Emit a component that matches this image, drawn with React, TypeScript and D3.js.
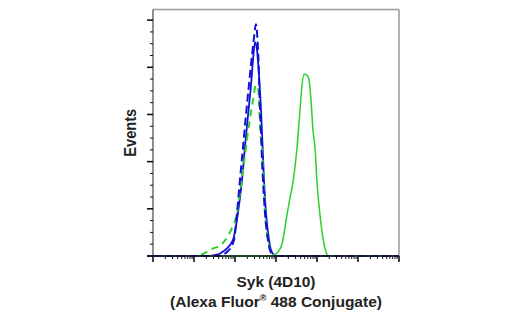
import React from 'react';
import * as d3 from 'd3';

// fluorescence intensity (log axis) and event counts (% of max)
const blueSolidX = [1, 18.5, 32.5, 57, 89, 118, 148, 175, 208, 246, 275, 307, 344, 385, 431, 469, 510, 570, 675, 755, 1000, 1e6];
const blueSolidY = [0, 0, 0.4, 2.5, 6.8, 18.2, 32.2, 46.2, 59.7, 72.5, 83.1, 90.7, 87.3, 76.7, 61.9, 47.0, 32.2, 18.2, 6.8, 2.5, 0, 0];

const blueDashX = [1, 38.5, 67.5, 94.6, 112, 132, 157, 185, 219, 260, 290, 325, 354, 374, 396, 431, 456, 496, 540, 638, 798, 1000, 1e6];
const blueDashY = [0, 0, 2.1, 6.8, 18.2, 32.2, 46.2, 59.7, 72.5, 85.2, 92.4, 98.3, 91.5, 83.1, 68.2, 52.5, 40.7, 28, 18.2, 6.8, 0.8, 0, 0];

const greenDashX = [1, 8, 14, 27.5, 48, 67.5, 84.5, 112, 140, 175, 219, 275, 325, 364, 385, 407, 456, 496, 540, 638, 798, 1000, 1e6];
const greenDashY = [0, 0, 0.4, 3.0, 5.1, 8.5, 11.9, 18.2, 30.1, 42.8, 55.5, 66.1, 72.5, 71.2, 66.1, 55.5, 44.9, 32.2, 18.2, 6.8, 0.8, 0, 0];

const greenSolidX = [1, 714, 894, 1119, 1400, 1854, 2194, 2600, 3250, 3850, 4310, 4820, 5700, 6380, 7140, 7980, 8940, 10000, 11840, 14000, 16600, 18540, 1e6];
const greenSolidY = [0, 0, 0.4, 1.7, 5.1, 17.4, 24.6, 31.4, 45.8, 61.9, 72.5, 77.1, 76.7, 74.6, 66.1, 53.4, 45.8, 31.4, 17.4, 7.6, 1.7, 0, 0];

const xLabel1 = 'Syk (4D10)';
const yLabel = 'Events';

const margin = { top: 9.5, right: 121, bottom: 64, left: 153 };
const W = 520;
const H = 320;

const App = () => {
  const x = d3.scaleLog().domain([1, 1e6]).range([margin.left, W - margin.right]);
  const y = d3.scaleLinear().domain([0, 104.5]).range([H - margin.bottom, margin.top]);

  const line = d3
    .line<[number, number]>()
    .x((d) => x(d[0]))
    .y((d) => y(d[1]))
    .curve(d3.curveMonotoneX);

  const pts = (xs: number[], ys: number[]) => xs.map((v, i) => [v, ys[i]] as [number, number]);

  const y0 = y(0);
  const xTicks = x.ticks();
  const yTicks = d3.range(0, 101, 5);
  const font = '"Liberation Sans", Arial, sans-serif';
  const cx = (x.range()[0] + x.range()[1]) / 2;

  return (
    <svg width={W} height={H} style={{ position: 'absolute', left: 0, top: 0, background: '#fff' }}>
      {/* frame */}
      <line x1={x.range()[0]} x2={x.range()[1]} y1={margin.top} y2={margin.top} stroke="#9a9a9a" strokeWidth={1.5} />
      <line x1={x.range()[1]} x2={x.range()[1]} y1={margin.top} y2={y0} stroke="#9a9a9a" strokeWidth={1.5} />
      <line x1={x.range()[0]} x2={x.range()[0]} y1={margin.top} y2={y0} stroke="#555" strokeWidth={1.3} />

      {/* y ticks */}
      {yTicks.map((t) => (
        <line
          key={'y' + t}
          x1={x.range()[0] - (t % 20 === 0 ? 6 : 3)}
          x2={x.range()[0]}
          y1={y(t)}
          y2={y(t)}
          stroke="#111"
          strokeWidth={t % 20 === 0 ? 1.6 : 1}
        />
      ))}

      {/* x ticks */}
      {xTicks.map((t) => {
        const major = Math.abs(Math.log10(t) - Math.round(Math.log10(t))) < 1e-9;
        return (
          <line
            key={'x' + t}
            x1={x(t)}
            x2={x(t)}
            y1={y0}
            y2={y0 + (major ? 6 : 3)}
            stroke="#111"
            strokeWidth={major ? 1.6 : 1}
          />
        );
      })}

      {/* curves */}
      <path d={line(pts(blueSolidX, blueSolidY)) || ''} fill="none" stroke="#1010d8" strokeWidth={1.8} />
      <path d={line(pts(greenSolidX, greenSolidY)) || ''} fill="none" stroke="#2bd12b" strokeWidth={1.5} />
      <path d={line(pts(greenDashX, greenDashY)) || ''} fill="none" stroke="#2bd12b" strokeWidth={2} strokeDasharray="7 5" />
      <path d={line(pts(blueDashX, blueDashY)) || ''} fill="none" stroke="#1010d8" strokeWidth={2} strokeDasharray="8 4" />

      {/* bottom axis line */}
      <line x1={x.range()[0] - 6} x2={x.range()[1]} y1={y0} y2={y0} stroke="#111" strokeWidth={1.3} />

      {/* labels */}
      <text
        transform={`translate(136, ${(margin.top + y0) / 2}) rotate(-90)`}
        textAnchor="middle"
        fontFamily={font}
        fontWeight="bold"
        fontSize={16}
        textLength={48}
        lengthAdjust="spacingAndGlyphs"
        fill="#222"
      >
        {yLabel}
      </text>
      <text
        x={cx}
        y={287}
        textAnchor="middle"
        fontFamily={font}
        fontWeight="bold"
        fontSize={15.5}
        textLength={79}
        lengthAdjust="spacingAndGlyphs"
        fill="#222"
      >
        {xLabel1}
      </text>
      <text
        x={cx}
        y={307}
        textAnchor="middle"
        fontFamily={font}
        fontWeight="bold"
        fontSize={15.5}
        textLength={212}
        lengthAdjust="spacingAndGlyphs"
        fill="#222"
      >
        (Alexa Fluor
        <tspan fontSize={9} dy={-6}>®</tspan>
        <tspan dy={6}> 488 Conjugate)</tspan>
      </text>
    </svg>
  );
};

export default App;
